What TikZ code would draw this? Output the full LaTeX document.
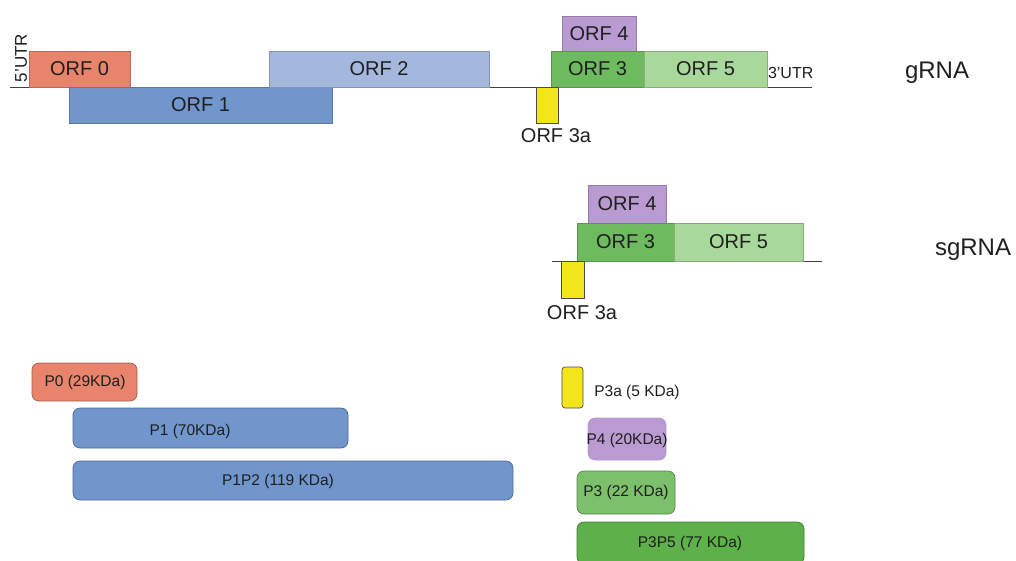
\documentclass[tikz,border=0pt]{standalone}
\usepackage{fontspec}
\setmainfont{Liberation Sans}
\begin{document}
\begin{tikzpicture}[x=1pt,y=-1pt,
  every node/.style={inner sep=0pt, outer sep=0pt, text=black!88},
  orf/.style={draw=#1!80!black, line width=0.5pt, fill=#1, anchor=north west,
    font=\fontsize{20}{22}\selectfont},
  prot/.style={draw=#1!70!black, line width=0.7pt, fill=#1, anchor=north west,
    rounded corners=7pt},
  ptext/.style={font=\fontsize{15.5}{17}\selectfont},
  rnaline/.style={line width=0.8pt, draw=black!75},
  rnaname/.style={font=\fontsize{24}{26}\selectfont},
  utr/.style={font=\fontsize{16}{18}\selectfont}
]
\definecolor{salmon}{HTML}{E9846C}
\definecolor{steel}{HTML}{7096CC}
\definecolor{paleblue}{HTML}{A4B8DE}
\definecolor{lilac}{HTML}{B99BD2}
\definecolor{leaf}{HTML}{6DBB5E}
\definecolor{paleleaf}{HTML}{A9D89B}
\definecolor{lemon}{HTML}{F2E51A}
\definecolor{deepleaf}{HTML}{5DB04A}
\definecolor{midleaf}{HTML}{7CC06B}

\useasboundingbox (0,0) rectangle (1016,560);

% ---- genomic RNA ----
\coordinate (g0) at (10,87);
\coordinate (g1) at (812,87);
\draw[rnaline] (g0) -- (g1);
\node[utr, rotate=90, anchor=center, font=\fontsize{17}{19}\selectfont] (utr5) at (21,58) {5'UTR};
\node[orf=salmon, minimum width=101pt, minimum height=36pt] (orf0) at (29,51) {ORF 0};
\node[orf=steel, minimum width=263pt, minimum height=36pt] (orf1) at (69,87) {ORF 1\hspace{22pt}};
\node[orf=paleblue, minimum width=220pt, minimum height=36pt] (orf2) at (269,51) {ORF 2};
\node[orf=lilac, minimum width=74pt, minimum height=35pt] (orf4) at (562,16) {ORF 4};
\node[orf=leaf, minimum width=93pt, minimum height=36pt] (orf3) at (551,51) {ORF 3};
\node[orf=paleleaf, minimum width=123pt, minimum height=36pt] (orf5) at (644,51) {ORF 5\hspace{12pt}};
\node[orf=lemon, draw=black!70, minimum width=22pt, minimum height=36pt] (orf3a) at (536,87) {};
\node[font=\fontsize{20}{22}\selectfont] (orf3al) at (556,136) {ORF 3a};
\node[utr, anchor=west] (utr3) at (768,73) {3'UTR};
\node[rnaname] (grna) at (937,73) {gRNA};

% ---- subgenomic RNA ----
\coordinate (s0) at (552,261);
\coordinate (s1) at (822,261);
\draw[rnaline] (s0) -- (s1);
\node[orf=lilac, minimum width=78pt, minimum height=38pt] (sorf4) at (588,185) {ORF 4};
\node[orf=leaf, minimum width=97pt, minimum height=38pt] (sorf3) at (577,223) {ORF 3};
\node[orf=paleleaf, minimum width=129pt, minimum height=38pt] (sorf5) at (674,223) {ORF 5\hspace{12pt}};
\node[orf=lemon, draw=black!70, minimum width=23pt, minimum height=37pt] (sorf3a) at (561,261) {};
\node[font=\fontsize{20}{22}\selectfont] (sorf3al) at (582,313) {ORF 3a};
\node[rnaname, anchor=west] (sgrna) at (935,250) {sgRNA};

% ---- proteins ----
\node[prot=salmon, minimum width=105pt, minimum height=38pt] (p0) at (32,363) {};
\node[ptext] (p0l) at (85,382) {P0 (29KDa)};
\node[prot=steel, minimum width=275pt, minimum height=40pt] (p1) at (73,408) {};
\node[ptext] (p1l) at (190,431) {P1 (70KDa)};
\node[prot=steel, minimum width=440pt, minimum height=39pt] (p1p2) at (73,461) {};
\node[ptext] (p1p2l) at (278,481) {P1P2 (119 KDa)};
\node[prot=lemon, draw=black!70, rounded corners=3pt, minimum width=21pt, minimum height=41pt] (p3a) at (562,367) {};
\node[ptext] (p3al) at (637,392) {P3a (5 KDa)};
\node[prot=lilac, draw=lilac, minimum width=78pt, minimum height=42pt] (p4) at (588,418) {};
\node[ptext] (p4l) at (627,440) {P4 (20KDa)};
\node[prot=midleaf, minimum width=98pt, minimum height=43pt] (p3) at (577,471) {};
\node[ptext] (p3l) at (626,492) {P3 (22 KDa)};
\node[prot=deepleaf, minimum width=227pt, minimum height=42pt] (p3p5) at (577,522) {};
\node[ptext] (p3p5l) at (690,543) {P3P5 (77 KDa)};
\end{tikzpicture}
\end{document}
